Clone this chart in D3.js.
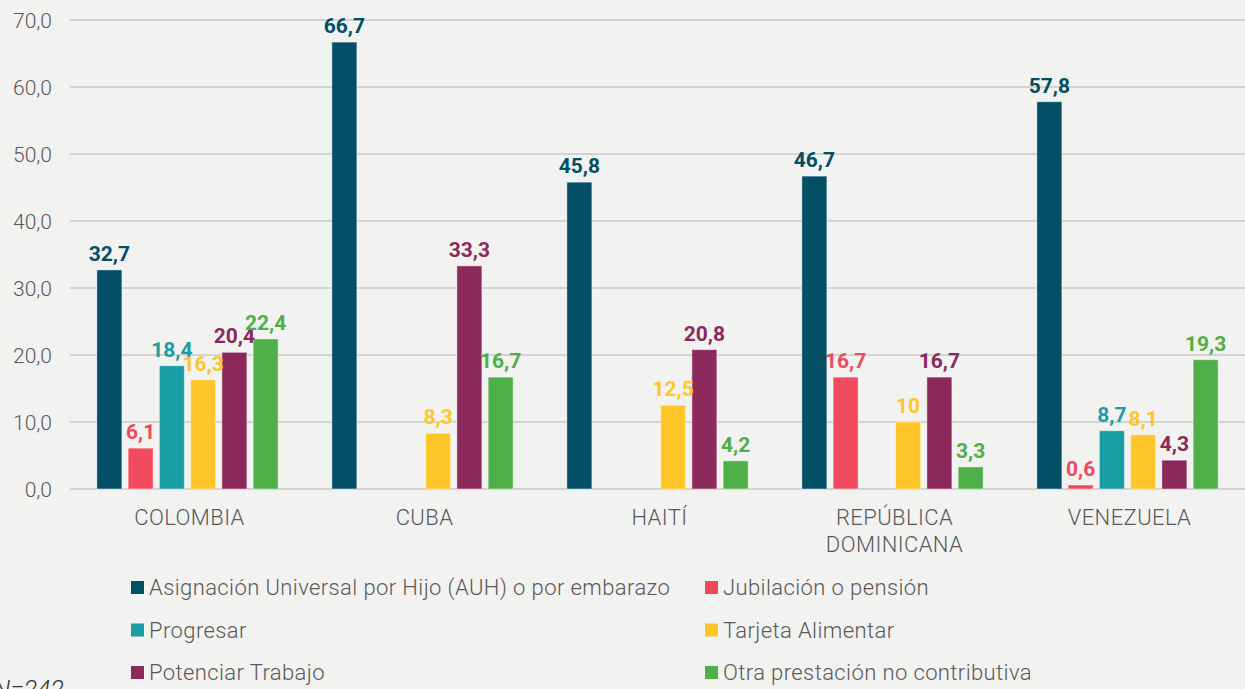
<!DOCTYPE html>
<html><head><meta charset="utf-8">
<script src="https://cdn.jsdelivr.net/npm/d3@7/dist/d3.min.js"></script>
<style>
html,body{margin:0;padding:0;background:#F2F2F0;}
svg{display:block;font-family:Roboto,"Noto Sans",sans-serif;}
</style></head>
<body><svg id="c" width="1245" height="689"></svg>
<script>
const categories = ["COLOMBIA","CUBA","HAITÍ","REPÚBLICA DOMINICANA","VENEZUELA"];
const categoryLines = [["COLOMBIA"],["CUBA"],["HAITÍ"],["REPÚBLICA","DOMINICANA"],["VENEZUELA"]];
const seriesNames = ["Asignación Universal por Hijo (AUH) o por embarazo","Jubilación o pensión","Progresar","Tarjeta Alimentar","Potenciar Trabajo","Otra prestación no contributiva"];
const seriesColors = ["#034F66","#EF4A5E","#189EA4","#FEC629","#8B2A5A","#4FAF48"];
const auh = [32.7, 66.7, 45.8, 46.7, 57.8];
const jubilacion = [6.1, null, null, 16.7, 0.6];
const progresar = [18.4, null, null, null, 8.7];
const tarjeta = [16.3, 8.3, 12.5, 10, 8.1];
const potenciar = [20.4, 33.3, 20.8, 16.7, 4.3];
const otra = [22.4, 16.7, 4.2, 3.3, 19.3];
const yTicks = [0,10,20,30,40,50,60,70];
const note = "N=242";

const seriesValues = [auh, jubilacion, progresar, tarjeta, potenciar, otra];
const svg = d3.select("#c");
const x0 = d3.scaleBand().domain(categories).range([70,1245]).padding(0);
const x1 = d3.scaleBand().domain(seriesNames).range([0, x0.bandwidth()]).paddingInner(0.2).paddingOuter(0.86);
const y = d3.scaleLinear().domain([0,70]).range([489,20]);

// grid
const g = svg.append("g");
g.selectAll("line.grid").data(yTicks).join("line")
  .attr("x1",70).attr("x2",1245)
  .attr("y1",d=>y(d)).attr("y2",d=>y(d))
  .attr("stroke","#D3D3D1").attr("stroke-width",2);

const fmt = v => String(v).replace(".",",");
const fmtTick = v => v.toFixed(1).replace(".",",");

// y axis
const yAxis = d3.axisLeft(y).tickValues(yTicks).tickFormat(fmtTick).tickSize(0).tickPadding(0);
const ya = svg.append("g").attr("transform","translate(52,0)").call(yAxis);
ya.select(".domain").remove();
ya.selectAll("text").attr("font-family","Roboto").attr("font-weight",300).attr("font-size",21).attr("fill","#595959").attr("dy","0.36em");

// bars
const data = [];
categories.forEach((c,ci)=>seriesNames.forEach((s,si)=>{
  const v = seriesValues[si][ci];
  if(v!==null) data.push({c, s, si, v});
}));
svg.append("g").selectAll("rect").data(data).join("rect")
  .attr("x",d=>x0(d.c)+x1(d.s))
  .attr("y",d=>y(d.v))
  .attr("width",x1.bandwidth())
  .attr("height",d=>y(0)-y(d.v))
  .attr("fill",d=>seriesColors[d.si])
  .attr("stroke","#ffffff").attr("stroke-opacity",0.45).attr("stroke-width",1);

svg.append("g").selectAll("text").data(data).join("text")
  .attr("x",d=>x0(d.c)+x1(d.s)+x1.bandwidth()/2)
  .attr("y",d=>y(d.v)-9)
  .attr("text-anchor","middle")
  .attr("font-family","Roboto").attr("font-weight",700).attr("font-size",21)
  .attr("fill",d=>seriesColors[d.si])
  .text(d=>fmt(d.v));

// x labels
const xl = svg.append("g");
categories.forEach((c,ci)=>{
  const cx = x0(c)+x0.bandwidth()/2 + 2;
  const t = xl.append("text")
    .attr("x",cx)
    .attr("y",525)
    .attr("text-anchor","middle")
    .attr("font-family","Roboto").attr("font-weight",300).attr("font-size",22)
    .attr("letter-spacing",0.4).attr("fill","#595959");
  categoryLines[ci].forEach((ln,li)=>{
    t.append("tspan").attr("x",cx).attr("dy",li===0?0:27).text(ln);
  });
});

// legend
const legX = [131, 705];
const leg = svg.append("g");
seriesNames.forEach((s,i)=>{
  const col = i%2, row = Math.floor(i/2);
  const ly = 581 + row*42.5;
  leg.append("rect").attr("x",legX[col]).attr("y",ly).attr("width",13).attr("height",13).attr("fill",seriesColors[i]);
  leg.append("text").attr("x",legX[col]+18).attr("y",ly+14)
    .attr("font-family","Roboto").attr("font-weight",300).attr("font-size",22)
    .attr("letter-spacing",0.4).attr("fill","#595959").text(s);
});

svg.append("text").attr("x",-7).attr("y",698)
  .attr("font-family","Roboto").attr("font-style","italic").attr("font-weight",300).attr("font-size",25).attr("fill","#333")
  .text(note);
</script></body></html>
